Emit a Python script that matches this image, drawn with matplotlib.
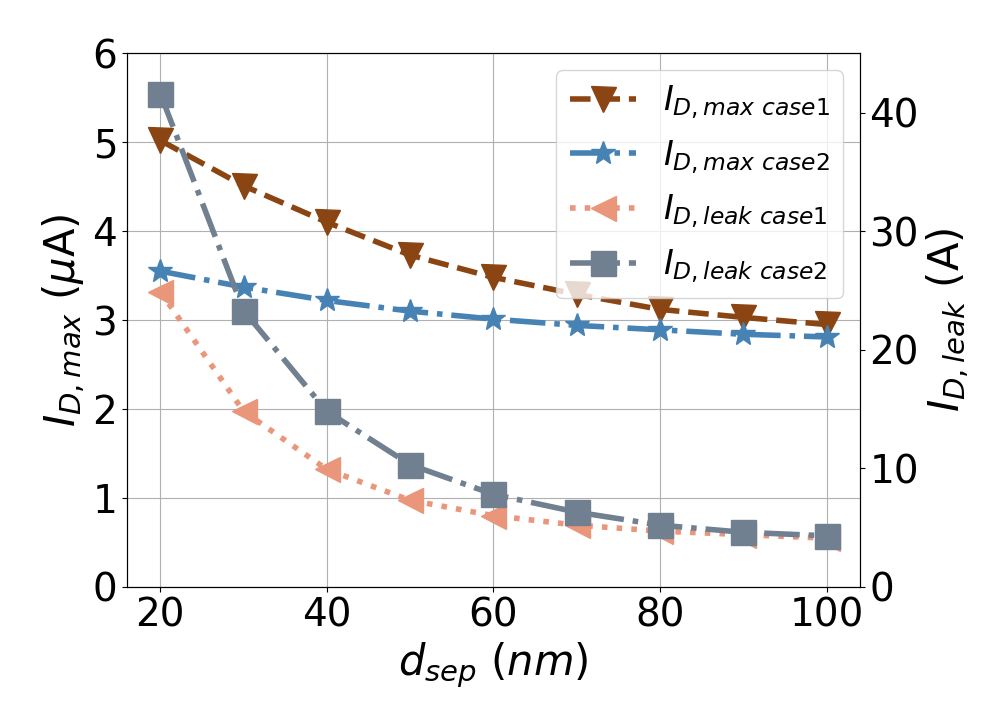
import matplotlib
matplotlib.use("Agg")
import matplotlib.pyplot as plt

d_sep = [20, 30, 40, 50, 60, 70, 80, 90, 100]
id_max_case1 = [5.02, 4.51, 4.10, 3.73, 3.48, 3.29, 3.12, 3.03, 2.95]
id_max_case2 = [3.55, 3.37, 3.22, 3.10, 3.01, 2.94, 2.89, 2.84, 2.81]
id_leak_case1 = [24.9, 14.8, 9.9, 7.3, 6.0, 5.2, 4.7, 4.4, 4.1]
id_leak_case2 = [41.6, 23.3, 14.8, 10.3, 7.8, 6.3, 5.2, 4.6, 4.3]

fig = plt.figure(figsize=(10.08, 7.2), dpi=100)
ax = fig.add_axes([0.126, 0.185, 0.727, 0.741])
ax2 = ax.twinx()

l1, = ax.plot(d_sep, id_max_case1, ls="--", lw=4, color="#8B4513",
              marker="v", ms=18, label=r"$I_{D,max\ case1}$")
l2, = ax.plot(d_sep, id_max_case2, ls="-.", lw=4, color="#4682B4",
              marker="*", ms=18, label=r"$I_{D,max\ case2}$")
l3, = ax2.plot(d_sep, id_leak_case1, ls=":", lw=4, color="#E9967A",
               marker="<", ms=18, label=r"$I_{D,leak\ case1}$")
l4, = ax2.plot(d_sep, id_leak_case2, ls="-.", lw=4, color="#708090",
               marker="s", ms=18, label=r"$I_{D,leak\ case2}$")

ax.set_ylim(0, 6)
ax2.set_ylim(0, 45)
ax.set_xticks([20, 40, 60, 80, 100])
ax.grid(True, color="#b0b0b0")
ax.tick_params(labelsize=28)
ax2.tick_params(labelsize=28)
ax.set_xlabel(r"$d_{sep}\ (nm)$", fontsize=30)
ax.set_ylabel(r"$I_{D,max}$ ($\mu$A)", fontsize=30)
ax2.set_ylabel(r"$I_{D,leak}$ (A)", fontsize=30)

ax2.legend(handles=[l1, l2, l3, l4], loc="upper right", fontsize=24)

fig.savefig("out.png", dpi=100)
